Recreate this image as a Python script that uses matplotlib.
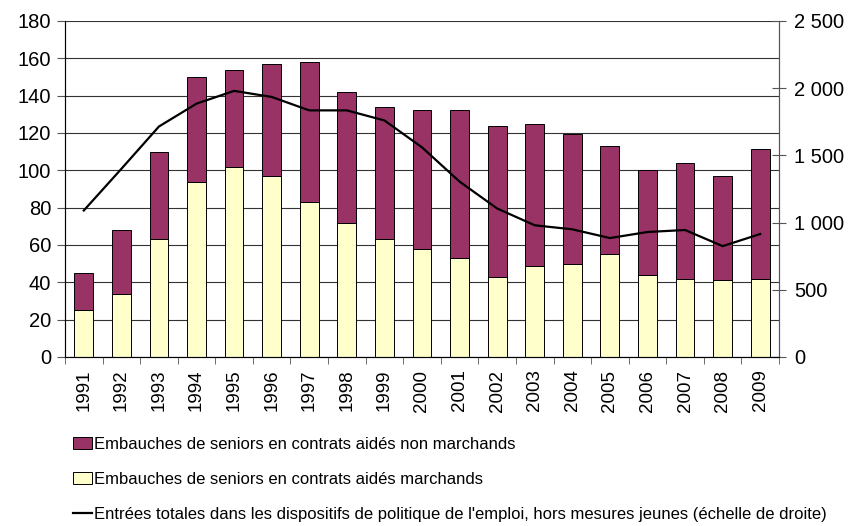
import matplotlib.pyplot as plt
from matplotlib.patches import Patch
from matplotlib.lines import Line2D
from matplotlib.ticker import FuncFormatter

plt.rcParams['font.family'] = ['Liberation Sans', 'DejaVu Sans']

years = [str(y) for y in range(1991, 2010)]
marchands = [25, 34, 63, 94, 102, 97, 83, 72, 63, 58, 53, 43, 49, 50, 55, 44, 42, 41, 42]
totals = [45, 68, 110, 150, 154, 157, 158, 142, 134, 132.5, 132.5, 124, 125, 119.5, 113, 100, 104, 97, 111.5]
non_marchands = [t - m for t, m in zip(totals, marchands)]
entrees = [1090, 1400, 1715, 1885, 1980, 1935, 1835, 1835, 1760, 1560, 1305, 1105, 980, 950, 885, 930, 945, 825, 915]

label_nm = "Embauches de seniors en contrats aidés non marchands"
label_m = "Embauches de seniors en contrats aidés marchands"
label_line = "Entrées totales dans les dispositifs de politique de l'emploi, hors mesures jeunes (échelle de droite)"

fig = plt.figure(figsize=(8.56, 5.26), dpi=100)
ax = fig.add_axes([65/856, 1 - 357/526, 714/856, 336/526])
x = list(range(len(years)))

ax.bar(x, marchands, 0.5, color='#FFFFCC', edgecolor='black', linewidth=0.7, zorder=2)
ax.bar(x, non_marchands, 0.5, bottom=marchands, color='#993366', edgecolor='black', linewidth=0.7, zorder=2)

ax.set_xlim(-0.5, len(years) - 0.5)
ax.set_ylim(0, 180)
ax.set_yticks(range(0, 181, 20))
ax.yaxis.grid(True, color='#333333', linewidth=0.8)
ax.set_axisbelow(True)
ax.set_xticks(x)
ax.set_xticklabels(years, rotation=90, fontsize=13.5)
ax.set_xticks([i - 0.5 for i in range(len(years) + 1)], minor=True)
ax.tick_params(axis='x', which='major', length=0, pad=9)
ax.tick_params(axis='x', which='minor', length=5, color='#555555')
ax.tick_params(axis='y', length=6, labelsize=14.5, color='#555555', pad=4)
ax.spines['top'].set_visible(False)
for s in ['left', 'right', 'bottom']:
    ax.spines[s].set_color('#555555')

ax2 = ax.twinx()
ax2.plot(x, entrees, color='black', linewidth=1.6, zorder=3)
ax2.set_ylim(0, 2500)
ax2.set_yticks(range(0, 2501, 500))
ax2.yaxis.set_major_formatter(FuncFormatter(lambda v, p: f"{int(v):,}".replace(",", " ")))
ax2.tick_params(axis='y', direction='inout', length=10, labelsize=14.5, color='#555555', pad=6)
ax2.spines['top'].set_visible(False)
ax2.spines['right'].set_color('#555555')

handles = [
    Patch(facecolor='#993366', edgecolor='black', linewidth=0.7),
    Patch(facecolor='#FFFFCC', edgecolor='black', linewidth=0.7),
    Line2D([0], [0], color='black', linewidth=1.6),
]
fig.legend(handles, [label_nm, label_m, label_line], loc='upper left',
           bbox_to_anchor=(66/856, 1 - 430/526), frameon=False,
           prop={'size': 12},
           handlelength=1.15, handleheight=0.75, handletextpad=0.15, labelspacing=1.2,
           borderaxespad=0)

fig.savefig('out.png', dpi=100)
